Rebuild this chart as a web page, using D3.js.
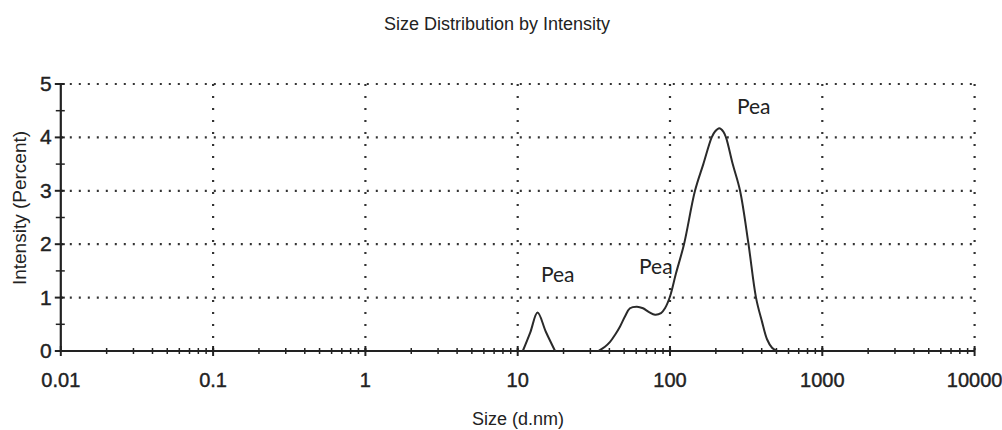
<!DOCTYPE html>
<html><head><meta charset="utf-8">
<script src="https://cdn.jsdelivr.net/npm/d3@7/dist/d3.min.js"></script>
<style>body{margin:0;background:#fff}svg{display:block}</style>
</head><body>
<svg id="c" width="1002" height="430"></svg>
<script>
const titleText = "Size Distribution by Intensity";
const xTitle = "Size (d.nm)";
const yTitle = "Intensity (Percent)";
const xTickValues = [0.01, 0.1, 1, 10, 100, 1000, 10000];
const xTickLabels = ["0.01", "0.1", "1", "10", "100", "1000", "10000"];
const yTickValues = [0, 1, 2, 3, 4, 5];
const sizes = [10.8, 12.1, 13.5, 15.3, 17.6, 33.8, 37.4, 40.4, 43.5, 47.0, 50.7, 54.6, 60.7, 66.5, 72.8, 79.8, 87.3, 92.7, 100, 109.4, 123.6, 145.9, 165.5, 187.8, 197.5, 210.8, 223.9, 233.2, 258.1, 288.4, 327.7, 367, 401.8, 433.5, 467.7, 504.5];
const intensity = [0, 0.35, 0.72, 0.36, 0, 0, 0.08, 0.17, 0.3, 0.46, 0.65, 0.8, 0.83, 0.8, 0.73, 0.68, 0.71, 0.8, 1.02, 1.45, 2.0, 3.0, 3.5, 4.0, 4.11, 4.17, 4.11, 4.0, 3.5, 3.0, 2.0, 1.0, 0.55, 0.22, 0.06, 0];
const labelTexts = ["Pea", "Pea", "Pea"];
const labelSizes = [14.2, 62.6, 275];
const labelIntensity = [1.29, 1.44, 4.44];

const svg = d3.select("#c");
const x = d3.scaleLog().domain([0.01, 10000]).range([60.8, 974.6]);
const y = d3.scaleLinear().domain([0, 5]).range([351, 84]);
const ink = "#222";

// title
svg.append("text").attr("x", 497).attr("y", 30).attr("text-anchor", "middle")
  .attr("font-family", "Liberation Sans, Arial, sans-serif").attr("font-size", 18).attr("fill", ink)
  .text(titleText);

// grid
const g = svg.append("g");
g.selectAll(".hg").data(yTickValues.filter(d => d > 0)).join("line")
  .attr("x1", x(0.01)).attr("x2", x(10000)).attr("y1", d => y(d)).attr("y2", d => y(d))
  .attr("stroke", "#333").attr("stroke-width", 2.2).attr("stroke-dasharray", "2,7");
g.selectAll(".vg").data(xTickValues.filter(d => d > 0.01)).join("line")
  .attr("x1", d => x(d)).attr("x2", d => x(d)).attr("y1", y(5)).attr("y2", y(0))
  .attr("stroke", "#333").attr("stroke-width", 2.2).attr("stroke-dasharray", "2,10");

// x axis
const minorX = [];
for (let e = -2; e < 4; e++) for (let m = 2; m <= 9; m++) minorX.push(m * Math.pow(10, e));
const xAxis = svg.append("g").attr("transform", `translate(0,${y(0)})`);
xAxis.append("line").attr("x1", x(0.01)).attr("x2", x(10000)).attr("stroke", ink).attr("stroke-width", 2.2);
xAxis.selectAll(".mx").data(minorX).join("line")
  .attr("x1", d => x(d)).attr("x2", d => x(d)).attr("y1", -3).attr("y2", 3)
  .attr("stroke", ink).attr("stroke-width", 1.5);
xAxis.selectAll(".Mx").data(xTickValues).join("line")
  .attr("x1", d => x(d)).attr("x2", d => x(d)).attr("y1", -5).attr("y2", 5)
  .attr("stroke", ink).attr("stroke-width", 2);
xAxis.selectAll(".xl").data(xTickValues).join("text")
  .attr("x", d => x(d)).attr("y", 36).attr("text-anchor", "middle")
  .attr("font-family", "Liberation Sans, Arial, sans-serif").attr("font-size", 20).attr("fill", ink)
  .attr("stroke", ink).attr("stroke-width", 0.4)
  .text((d, i) => xTickLabels[i]);

// y axis
const yAxis = svg.append("g").attr("transform", `translate(${x(0.01)},0)`);
yAxis.append("line").attr("y1", y(0)).attr("y2", y(5)).attr("stroke", ink).attr("stroke-width", 2.2);
yAxis.selectAll(".my").data(d3.range(0.5, 5, 1)).join("line")
  .attr("x1", -5).attr("x2", 4).attr("y1", d => y(d)).attr("y2", d => y(d))
  .attr("stroke", ink).attr("stroke-width", 1.5);
yAxis.selectAll(".My").data(yTickValues).join("line")
  .attr("x1", -6).attr("x2", 4).attr("y1", d => y(d)).attr("y2", d => y(d))
  .attr("stroke", ink).attr("stroke-width", 2);
yAxis.selectAll(".yl").data(yTickValues).join("text")
  .attr("x", -9).attr("y", d => y(d) + 7).attr("text-anchor", "end")
  .attr("font-family", "Liberation Sans, Arial, sans-serif").attr("font-size", 21).attr("fill", ink)
  .attr("stroke", ink).attr("stroke-width", 0.4)
  .text(d => d);

// axis titles
svg.append("text").attr("x", 518).attr("y", 425).attr("text-anchor", "middle")
  .attr("font-family", "Liberation Sans, Arial, sans-serif").attr("font-size", 18).attr("fill", ink)
  .text(xTitle);
svg.append("text").attr("transform", "translate(26,208) rotate(-90)").attr("text-anchor", "middle")
  .attr("font-family", "Liberation Sans, Arial, sans-serif").attr("font-size", 19).attr("fill", ink)
  .text(yTitle);

// curve: split into segments where the distribution sits on zero
const pts = sizes.map((s, i) => [s, intensity[i]]);
const segments = [];
let cur = [];
pts.forEach((p, i) => {
  cur.push(p);
  const next = pts[i + 1];
  if (next && p[1] === 0 && next[1] === 0) { segments.push(cur); cur = []; }
});
if (cur.length) segments.push(cur);
const lineGen = d3.line().x(d => x(d[0])).y(d => y(d[1])).curve(d3.curveCatmullRom.alpha(0.5));
svg.selectAll(".seg").data(segments.filter(s => s.length > 1)).join("path")
  .attr("d", lineGen)
  .attr("fill", "none").attr("stroke", "#2a2a2a").attr("stroke-width", 2).attr("stroke-linejoin", "round");

// annotations
svg.selectAll(".pl").data(labelTexts).join("text")
  .attr("x", (d, i) => x(labelSizes[i])).attr("y", (d, i) => y(labelIntensity[i]))
  .attr("font-family", "Lato, Open Sans, sans-serif").attr("font-size", 21).attr("fill", "#222")
  .text(d => d);
</script>
</body></html>
